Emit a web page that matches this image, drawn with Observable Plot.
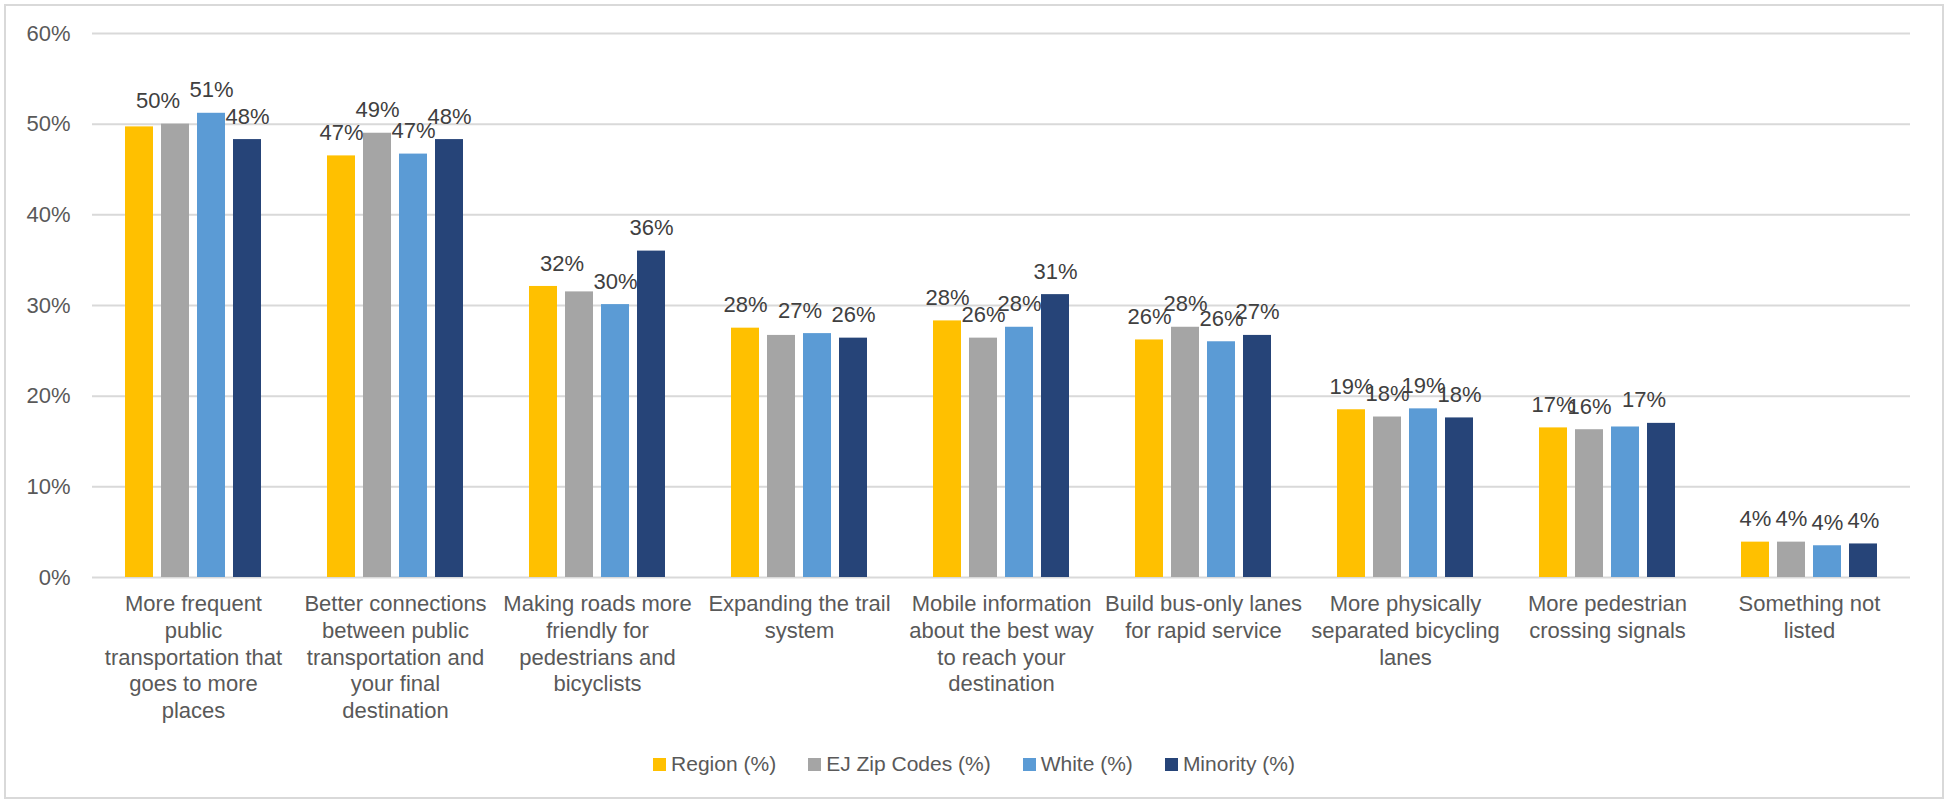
<!DOCTYPE html>
<html>
<head>
<meta charset="utf-8">
<script src="https://cdn.jsdelivr.net/npm/d3@7"></script>
<script src="https://cdn.jsdelivr.net/npm/@observablehq/plot@0.6"></script>
<style>
  html, body { margin: 0; padding: 0; background: #fff; }
  #wrap { position: relative; width: 1948px; height: 801px; overflow: hidden; font-family: "Liberation Sans", Arial, sans-serif; }
  #frame { position: absolute; left: 4px; top: 4px; width: 1940px; height: 795px; border: 2px solid #d9d9d9; box-sizing: border-box; pointer-events: none; }
  #legend { position: absolute; left: 0; top: 751px; width: 1948px; display: flex; justify-content: center; align-items: center; gap: 32px; font-size: 21px; color: #595959; line-height: 26px; }
  #legend .item { display: flex; align-items: center; gap: 5px; }
  #legend .sw { width: 13px; height: 13px; display: inline-block; }
</style>
</head>
<body>
<div id="wrap">
  <div id="chart"></div>
  <div id="legend"></div>
  <div id="frame"></div>
</div>
<script>
// ---- data ----
const categories = [
  "More frequent public transportation that goes to more places",
  "Better connections between public transportation and your final destination",
  "Making roads more friendly for pedestrians and bicyclists",
  "Expanding the trail system",
  "Mobile information about the best way to reach your destination",
  "Build bus-only lanes for rapid service",
  "More physically separated bicycling lanes",
  "More pedestrian crossing signals",
  "Something not listed"
];
const categoryLabels = [
  "More frequent\npublic\ntransportation that\ngoes to more\nplaces",
  "Better connections\nbetween public\ntransportation and\nyour final\ndestination",
  "Making roads more\nfriendly for\npedestrians and\nbicyclists",
  "Expanding the trail\nsystem",
  "Mobile information\nabout the best way\nto reach your\ndestination",
  "Build bus-only lanes\nfor rapid service",
  "More physically\nseparated bicycling\nlanes",
  "More pedestrian\ncrossing signals",
  "Something not\nlisted"
];
const series = ["Region (%)", "EJ Zip Codes (%)", "White (%)", "Minority (%)"];
const colors = ["#FFC000", "#A5A5A5", "#5B9BD5", "#264478"];
const region   = [49.7, 46.5, 32.1, 27.5, 28.3, 26.2, 18.5, 16.5, 3.9];
const ejZip    = [50.0, 49.0, 31.5, 26.7, 26.4, 27.6, 17.7, 16.3, 3.9];
const white    = [51.2, 46.7, 30.1, 26.9, 27.6, 26.0, 18.6, 16.6, 3.5];
const minority = [48.3, 48.3, 36.0, 26.4, 31.2, 26.7, 17.6, 17.0, 3.7];
const yTicks = [0, 10, 20, 30, 40, 50, 60];
// data labels shared by a bar and the next one in the same group
const sharedLabels = [
  [categories[0], "Region (%)"],
  [categories[2], "Region (%)"],
  [categories[3], "EJ Zip Codes (%)"],
  [categories[7], "White (%)"]
];

// ---- build tables ----
const valueSeries = [region, ejZip, white, minority];
const rows = categories.flatMap((c, i) => series.map((s, j) => ({category: c, series: s, value: valueSeries[j][i]})));
const singleLabels = [], pairLabels = [];
categories.forEach((c, i) => {
  for (let j = 0; j < series.length; j++) {
    const v = valueSeries[j][i];
    const shared = sharedLabels.some(([sc, ss]) => sc === c && ss === series[j]);
    if (shared) {
      const v2 = valueSeries[j + 1][i];
      pairLabels.push({category: c, series: series[j], value: Math.max(v, v2), text: Math.round(v) + "%"});
      j++;
    } else {
      singleLabels.push({category: c, series: series[j], value: v, text: Math.round(v) + "%"});
    }
  }
});

// ---- layout ----
const W = 1948, H = 740;
const mL = 90, mR = 36, mT = 33, mB = 163;
const xPadInner = 0.216, xPadOuter = 0.8446;
const facetW = (W - mL - mR) / categories.length;
const xStep = facetW / (series.length - xPadInner + 2 * xPadOuter);

const chart = Plot.plot({
  width: W,
  height: H,
  marginLeft: mL,
  marginRight: mR,
  marginTop: mT,
  marginBottom: mB,
  style: {fontFamily: "'Liberation Sans', Arial, sans-serif", fontSize: "22px", color: "#595959", background: "transparent"},
  fx: {domain: categories, padding: 0},
  x: {domain: series, paddingInner: xPadInner, paddingOuter: xPadOuter, axis: null},
  y: {domain: [0, 60], ticks: yTicks, tickFormat: d => d + "%", tickSize: 0, tickPadding: 22, label: null},
  color: {domain: series, range: colors},
  marks: [
    Plot.gridY(yTicks, {stroke: "#d9d9d9", strokeOpacity: 1, strokeWidth: 2}),
    Plot.barY(rows, {fx: "category", x: "series", y: "value", fill: "series"}),
    Plot.text(singleLabels, {fx: "category", x: "series", y: "value", text: "text", dy: -23, fill: "#404040", fontSize: 22}),
    Plot.text(pairLabels, {fx: "category", x: "series", y: "value", text: "text", dx: xStep / 2, dy: -23, fill: "#404040", fontSize: 22}),
    Plot.axisFx({
      anchor: "bottom", tickSize: 0, tickPadding: 15, label: null, lineHeight: 1.21,
      fontSize: 22, fill: "#595959",
      tickFormat: d => categoryLabels[categories.indexOf(d)]
    })
  ]
});
document.getElementById("chart").appendChild(chart);

// ---- legend ----
const legend = d3.select("#legend");
series.forEach((s, i) => {
  const item = legend.append("div").attr("class", "item");
  item.append("span").attr("class", "sw").style("background", colors[i]);
  item.append("span").text(s);
});
</script>
</body>
</html>
